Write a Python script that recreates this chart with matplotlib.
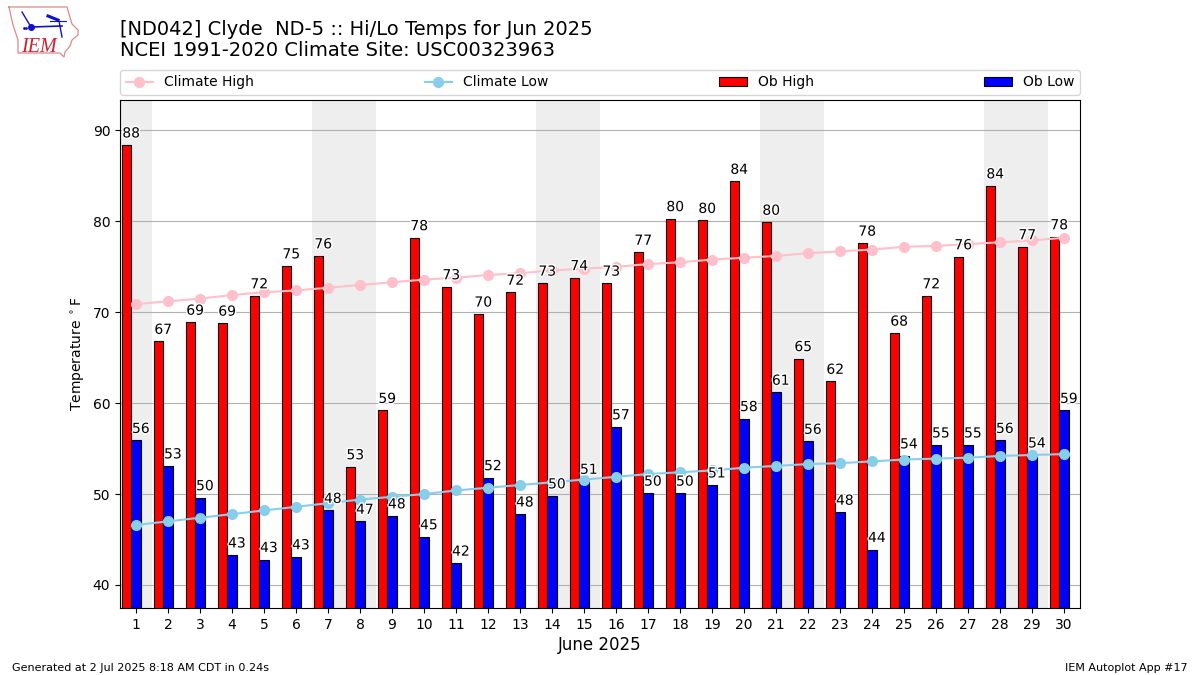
from matplotlib import pyplot as plt
import matplotlib.patheffects as pe
import numpy as np

days = np.arange(1, 31)
ob_high = [88.4, 66.8, 68.9, 68.8, 71.8, 75.1, 76.2, 53.0, 59.2, 78.2,
           72.8, 69.8, 72.2, 73.2, 73.8, 73.2, 76.6, 80.3, 80.1, 84.4,
           79.9, 64.9, 62.4, 77.6, 67.7, 71.8, 76.1, 83.9, 77.2, 78.3]
ob_low = [55.9, 53.1, 49.6, 43.3, 42.8, 43.1, 48.2, 47.0, 47.6, 45.3,
          42.4, 51.8, 47.8, 49.8, 51.4, 57.4, 50.1, 50.1, 51.0, 58.3,
          61.2, 55.8, 48.0, 43.9, 54.2, 55.4, 55.4, 55.9, 54.3, 59.2]
climo_high = [70.9, 71.2, 71.5, 71.9, 72.2, 72.4, 72.7, 73.0, 73.3, 73.6,
              73.8, 74.1, 74.3, 74.6, 74.8, 75.0, 75.3, 75.5, 75.8, 76.0,
              76.2, 76.5, 76.7, 76.9, 77.2, 77.3, 77.5, 77.7, 77.9, 78.2]
climo_low = [46.6, 47.0, 47.4, 47.8, 48.2, 48.6, 49.0, 49.4, 49.7, 50.0,
             50.4, 50.7, 51.0, 51.3, 51.6, 51.9, 52.2, 52.4, 52.6, 52.9,
             53.1, 53.3, 53.4, 53.6, 53.8, 53.9, 54.0, 54.2, 54.3, 54.4]
high_labels = [88, 67, 69, 69, 72, 75, 76, 53, 59, 78, 73, 70, 72, 73, 74,
               73, 77, 80, 80, 84, 80, 65, 62, 78, 68, 72, 76, 84, 77, 78]
low_labels = [56, 53, 50, 43, 43, 43, 48, 47, 48, 45, 42, 52, 48, 50, 51,
              57, 50, 50, 51, 58, 61, 56, 48, 44, 54, 55, 55, 56, 54, 59]
weekends = [(0.5, 1.5), (6.5, 8.5), (13.5, 15.5), (20.5, 22.5), (27.5, 29.5)]

fig = plt.figure(figsize=(12, 6.75), dpi=100)
ax = fig.add_axes([120 / 1200, 1 - 608 / 675, 960 / 1200, 508 / 675])

for start, end in weekends:
    ax.axvspan(start, end, color='#eeeeee', lw=0, zorder=0)

ax.bar(days - 0.3, ob_high, width=0.3, color='r', edgecolor='k', lw=0.8, zorder=2, label='Ob High')
ax.bar(days, ob_low, width=0.3, color='b', edgecolor='k', lw=0.8, zorder=2, label='Ob Low')
ax.plot(days, climo_high, color='pink', marker='o', ms=7, lw=1.5, zorder=3, label='Climate High')
ax.plot(days, climo_low, color='skyblue', marker='o', ms=7, lw=1.5, zorder=3, label='Climate Low')

stroke = [pe.withStroke(linewidth=2, foreground='white')]
for d, h, hl, l, ll in zip(days, ob_high, high_labels, ob_low, low_labels):
    ax.text(d - 0.15, h + 0.5, str(hl), ha='center', va='bottom', fontsize=10,
            zorder=5, path_effects=stroke)
    ax.text(d + 0.15, l + 0.5, str(ll), ha='center', va='bottom', fontsize=10,
            zorder=5, path_effects=stroke)

ax.set_xlim(0.5, 30.5)
ax.set_ylim(37.47, 93.35)
ax.set_xticks(days)
ax.set_yticks(range(40, 100, 10))
ax.grid(axis='y', color='#b0b0b0', lw=0.8, zorder=1)
ax.set_axisbelow(True)
ax.set_ylabel(r'Temperature $^\circ$F')
ax.set_xlabel('June 2025', fontsize=12, labelpad=3)

handles, labels = ax.get_legend_handles_labels()
order = [labels.index(n) for n in ('Climate High', 'Climate Low', 'Ob High', 'Ob Low')]
ax.legend([handles[i] for i in order], [labels[i] for i in order], ncol=4, mode='expand',
          loc='lower left', bbox_to_anchor=(0, 1.01, 1, 0.05), borderaxespad=0, fontsize=10)

fig.text(120 / 1200, 1 - 60 / 675,
         '[ND042] Clyde  ND-5 :: Hi/Lo Temps for Jun 2025\nNCEI 1991-2020 Climate Site: USC00323963',
         fontsize=14, ha='left', va='bottom', linespacing=1.15)
fig.text(12 / 1200, 1 - 671 / 675, 'Generated at 2 Jul 2025 8:18 AM CDT in 0.24s', fontsize=8)
fig.text(1188 / 1200, 1 - 671 / 675, 'IEM Autoplot App #17', fontsize=8, ha='right')

# rough copy of the logo, coordinates are image pixels
logo = fig.add_axes([0, 1 - 60 / 675, 84 / 1200, 60 / 675])
logo.set_xlim(0, 84)
logo.set_ylim(60, 0)
logo.axis('off')
outline_x = [9, 67, 69, 72, 78, 78, 72, 70, 65, 64, 60, 18, 18, 13, 9]
outline_y = [7, 7, 14, 24, 30, 35, 40, 46, 52, 57, 53, 53, 40, 25, 7]
logo.plot(outline_x, outline_y, color='#e08888', lw=0.9)
logo.plot([31, 62], [27, 26], color='#1010d0', lw=1.2)
logo.plot([22, 31], [12, 27], color='#1010d0', lw=1)
logo.plot([48, 58], [16, 20], color='#1010d0', lw=2.2)
logo.plot([50, 66], [21, 21], color='#1010d0', lw=0.8)
logo.plot([59, 62], [21, 37], color='#1010d0', lw=1)
logo.plot([31], [27], 'o', color='#1010d0', ms=4)
logo.plot([24, 26], [28, 28], '.', color='#1010d0', ms=2)
logo.text(21, 52, 'IEM', color='#d02030', family='Liberation Serif', style='italic', fontsize=14.5)

fig.savefig('out.png', dpi=100)
